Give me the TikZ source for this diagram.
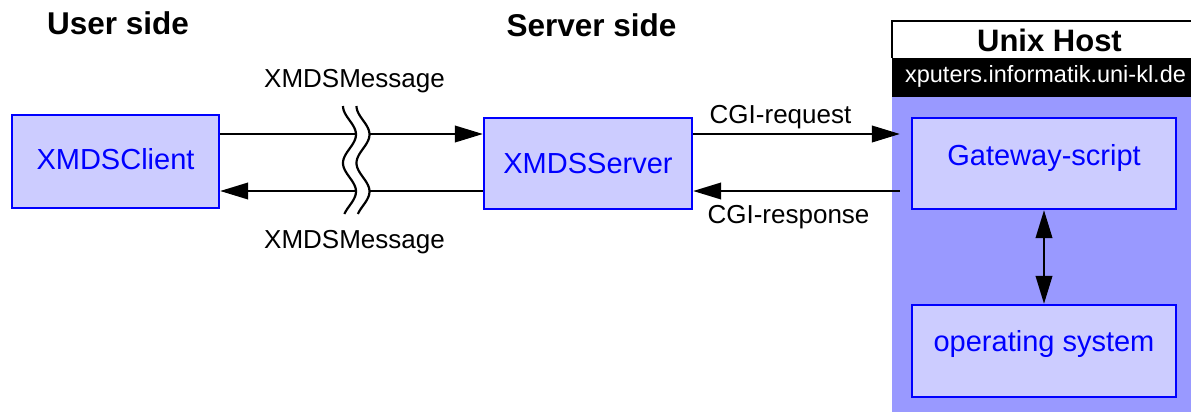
\documentclass[tikz,border=0pt]{standalone}
\usepackage{fontspec}
\setmainfont{Liberation Sans}
\usetikzlibrary{arrows.meta}
\definecolor{boxfill}{HTML}{CCCCFF}
\definecolor{hostfill}{HTML}{9999FF}
\definecolor{boxblue}{HTML}{0000FF}

\begin{document}
\begin{tikzpicture}[x=1pt,y=-1pt,
  comp/.style={draw=boxblue, line width=2.3pt, fill=boxfill, text=boxblue,
    font=\fontsize{29}{34}\selectfont, inner sep=0pt},
  lbl/.style={font=\fontsize{26}{30}\selectfont, anchor=base, inner sep=0pt},
  side/.style={font=\fontsize{31.5}{36}\selectfont\bfseries, anchor=base, inner sep=0pt},
  tip/.tip={Triangle[length=28pt,width=16.5pt]},
  conn/.style={line width=2.2pt, -tip},
  brk/.style={line width=2.2pt},
]
\useasboundingbox (0,0) rectangle (1191,412);

% Unix host area
\fill[hostfill] (892,97) rectangle (1191,412);
\fill[black] (892,58) rectangle (1191,97);
\draw[line width=2.2pt] (1191,21) -- (892,21) -- (892,58);
\node[side, font=\fontsize{31}{36}\selectfont\bfseries] (hosttitle) at (1049.5,52) {Unix Host};
\node[anchor=base, inner sep=0pt, text=white, font=\fontsize{23.5}{28}\selectfont]
  (hostname) at (1045.5,82) {xputers.informatik.uni-kl.de};

% headings
\node[side] (userside) at (118,35) {User side};
\node[side] (serverside) at (591.5,37) {Server side};

% components
\node[comp, minimum width=207pt, minimum height=93pt, text height=20pt, text depth=5pt]
  (client) at (115.5,161.5) {XMDSClient};
\node[comp, minimum width=208pt, minimum height=91pt, text height=21pt, text depth=2pt]
  (server) at (588,163.5) {XMDSServer};
\node[comp, minimum width=264pt, minimum height=91pt, text height=12pt, text depth=9pt]
  (gw) at (1044,163.5) {Gateway-script};
\node[comp, minimum width=264pt, minimum height=92pt, text height=10pt, text depth=10pt]
  (os) at (1044,351) {operating system};

% connector levels
\coordinate (ytop) at (0,134);
\coordinate (ybot) at (0,191);
\coordinate (gwin) at ([xshift=-11pt]gw.west);

% client <-> server messages
\draw[conn] (client.east |- ytop) -- (server.west |- ytop);
\draw[conn] (server.west |- ybot) -- (client.east |- ybot);

% break mark across the network link: two wavy strokes with a white gap
\fill[white]
  plot[domain=0:108, samples=60, variable=\t] ({349.5-6.5*cos(6.3158*\t)}, {106+\t})
  -- plot[domain=108:0, samples=60, variable=\t] ({363-6.5*cos(6.3158*\t)}, {106+\t})
  -- cycle;
\draw[brk] plot[domain=0:108, samples=60, variable=\t] ({349.5-6.5*cos(6.3158*\t)}, {106+\t});
\draw[brk] plot[domain=0:108, samples=60, variable=\t] ({363-6.5*cos(6.3158*\t)}, {106+\t});

\node[lbl] (msgtop) at (354.5,88) {XMDSMessage};
\node[lbl] (msgbot) at (354.5,248) {XMDSMessage};

% CGI traffic
\draw[conn] (server.east |- ytop) -- (gwin |- ytop);
\draw[conn] (gwin |- ybot) -- (server.east |- ybot);
\node[lbl] (req) at (780.5,123) {CGI-request};
\node[lbl] (resp) at (788.5,223) {CGI-response};

% gateway <-> operating system
\draw[line width=2.2pt, tip-tip] (gw.south) -- (os.north);
\end{tikzpicture}
\end{document}
